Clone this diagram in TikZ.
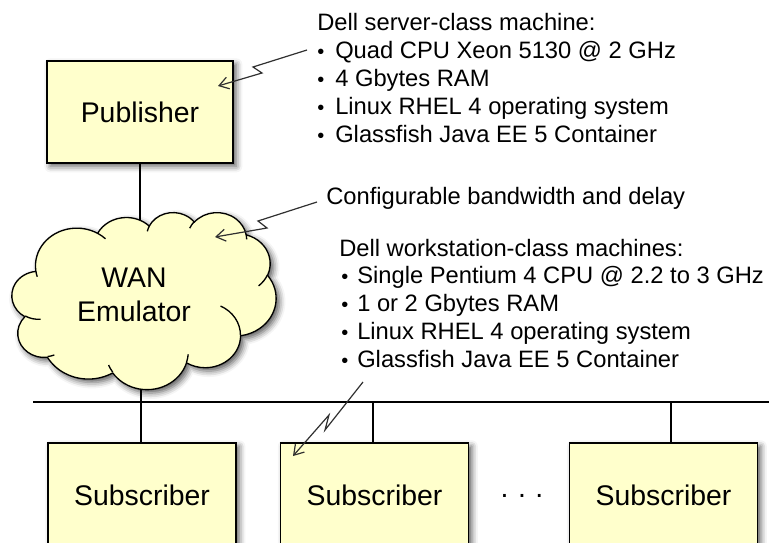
\documentclass[tikz,border=0pt]{standalone}
\usepackage{fontspec}
\setmainfont{Liberation Sans}
\usetikzlibrary{shadows.blur,arrows.meta,backgrounds}
\definecolor{boxfill}{HTML}{FFFFCC}
\definecolor{boltgray}{HTML}{303030}
\newcommand\smallbullet{{\fontsize{15}{15}\selectfont\textbullet}}
\newcommand\blta[1]{\makebox[13.5pt][l]{\smallbullet}#1}
\newcommand\bltb[1]{\makebox[12pt][l]{\smallbullet}#1}
\tikzset{
  softshadow/.style={blur shadow={shadow xshift=2.5pt, shadow yshift=-2.5pt,
      shadow blur radius=4.5pt, shadow opacity=65}},
  unitbox/.style={draw=black, line width=1.1pt, fill=boxfill, inner sep=0pt,
      font=\fontsize{21.3}{25}\selectfont, softshadow},
  pubbox/.style={unitbox, minimum width=139.5pt, minimum height=76.5pt},
  subbox/.style={unitbox, minimum width=141pt, minimum height=78pt},
  note/.style={anchor=base west, inner sep=0pt, font=\fontsize{17.8}{21}\selectfont},
  wire/.style={line width=1.5pt, black},
  bus/.style={line width=2.2pt, black},
  bolt/.style={draw=boltgray, line width=0.9pt, line join=miter,
      -{Straight Barb[length=7pt,width=9pt,line width=0.9pt]}},
  % elliptical arc given by radii, start and sweep as seen on the page
  puff/.style n args={4}{insert path={
      arc[x radius=#1, y radius=#2,
          start angle={atan2(#1*sin(#3),#2*cos(#3))},
          delta angle={mod(atan2(#1*sin(#3+#4),#2*cos(#3+#4))-atan2(#1*sin(#3),#2*cos(#3))+720,360)}]}},
  cloudline/.style={draw=black, line width=1pt, line join=round},
}
\begin{document}
\begin{tikzpicture}[x=0.75pt,y=-0.75pt]
\useasboundingbox (0,0) rectangle (769,543);
\clip (0,0) rectangle (769,543);

% publisher and subscribers
\node[pubbox] (pub) at (140,112) {Publisher};
\node[subbox] (sub1) at (142,495) {Subscriber};
\node[subbox] (sub2) at (374.5,495) {Subscriber};
\node[subbox] (sub3) at (663.5,495) {Subscriber};
\node[inner sep=0pt, font=\fontsize{21.3}{25}\selectfont] (more) at (522,496) {.\,\,.\,\,.};

% WAN emulator cloud, drawn in a 4320 x 4320 frame
\coordinate (wan) at (142,300);
\begin{scope}[shift={(12,212)}, x=0.045833pt, y=-0.030729pt]
  \path[cloudline, fill=boxfill, softshadow] (390,1437)
    [puff={675.3}{919.0}{-190.4875}{123.7805}]
    [puff={533.3}{726.7}{-144.1024}{89.9452}]
    [puff={436.5}{594.5}{-145.8079}{99.7230}]
    [puff={485.7}{659.5}{-130.9861}{117.2417}]
    [puff={533.3}{727.3}{-78.7089}{109.0269}]
    [puff={677.5}{922.0}{-46.2673}{130.2690}]
    [puff={578.5}{786.7}{0.6250}{114.0333}]
    [puff={675.2}{921.5}{22.4516}{115.1726}]
    [puff={772.0}{1054.3}{66.2426}{75.7110}]
    [puff={436.0}{591.8}{-274.9421}{146.7356}]
    [puff={434.5}{594.5}{-246.8285}{152.5189}] -- cycle;
  \path[cloudline]
    (469.3,2617.7) [puff={434.5}{594.5}{86.7420}{26.4295}]
    (692.8,3489.9) [puff={436.0}{591.8}{73.6105}{11.4475}]
    (1647.8,3909.0) [puff={675.2}{921.5}{137.6242}{14.0811}]
    (2882.7,3475.1) [puff={675.2}{921.5}{6.4533}{15.9984}]
    (3412.9,2295.4) [puff={578.5}{786.7}{-70.2924}{70.9174}]
    (4179.8,1535.4) [puff={533.3}{727.3}{30.3180}{27.7515}]
    (3832.4,542.6) [puff={485.7}{659.5}{-13.7443}{14.8589}]
    (2907.8,395.2) [puff={485.7}{659.5}{-149.1815}{18.1954}]
    (2214.1,472.0) [puff={436.5}{594.5}{-163.4943}{17.6864}]
    (1400.0,519.2) [puff={675.3}{919.0}{-66.7070}{12.3194}]
    (412.7,1578.9) [puff={675.3}{919.0}{157.6544}{11.8582}];
\end{scope}
\node[align=center, inner sep=0pt, font=\fontsize{21.3}{26}\selectfont] (wanlbl) at (134,295) {WAN\\Emulator};

% shared LAN
\coordinate (busL) at (33,402);
\coordinate (busR) at (769,402);
\coordinate (b1) at (141,402);
\coordinate (b2) at (373,402);
\coordinate (b3) at (671,402);
\draw[bus] (busL) -- (busR);
\begin{pgfonlayer}{background}
  \draw[wire] (pub.south) -- (pub.south |- wan);
  \draw[wire] (b1 |- wan) -- (b1);
\end{pgfonlayer}
\draw[wire] (b1) -- (b1 |- sub1.north);
\draw[wire] (b2) -- (b2 |- sub2.north);
\draw[wire] (b3) -- (b3 |- sub3.north);

% descriptions
\node[note] (srvhead) at (317,30.5) {Dell server-class machine:};
\node[note] (srv1) at (317,58.5) {\blta{Quad CPU Xeon 5130 @ 2 GHz}};
\node[note] (srv2) at (317,86.5) {\blta{4 Gbytes RAM}};
\node[note] (srv3) at (317,114.5) {\blta{Linux RHEL 4 operating system}};
\node[note] (srv4) at (317,142.5) {\blta{Glassfish Java EE 5 Container}};

\node[note] (bw) at (326,204) {Configurable bandwidth and delay};

\node[note] (wshead) at (339,256) {Dell workstation-class machines:};
\node[note] (ws1) at (341,283.5) {\bltb{Single Pentium 4 CPU @ 2.2 to 3 GHz}};
\node[note] (ws2) at (341,311.5) {\bltb{1 or 2 Gbytes RAM}};
\node[note] (ws3) at (341,339) {\bltb{Linux RHEL 4 operating system}};
\node[note] (ws4) at (341,367) {\bltb{Glassfish Java EE 5 Container}};

% lightning pointers
\coordinate (p1s) at (307,50);  \coordinate (p1a) at (253,67);
\coordinate (p1b) at (262,73);  \coordinate (p1e) at (218,86);
\draw[bolt] (p1s) -- (p1a) -- (p1b) -- (p1e);

\coordinate (p2s) at (317,202); \coordinate (p2a) at (258,221);
\coordinate (p2b) at (267,228); \coordinate (p2e) at (215,237);
\draw[bolt] (p2s) -- (p2a) -- (p2b) -- (p2e);

\coordinate (p3s) at (363,382); \coordinate (p3a) at (325,430);
\coordinate (p3b) at (329,415); \coordinate (p3e) at (293,456);
\draw[bolt] (p3s) -- (p3a) -- (p3b) -- (p3e);
\end{tikzpicture}
\end{document}
